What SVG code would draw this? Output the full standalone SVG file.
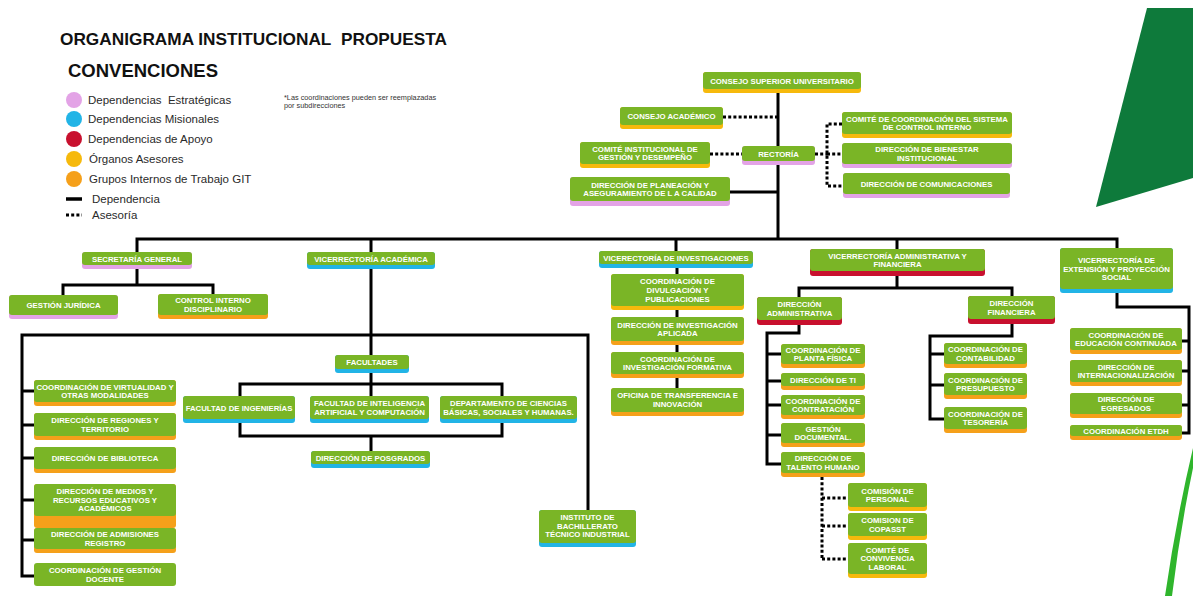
<svg xmlns="http://www.w3.org/2000/svg" width="1193" height="596" viewBox="0 0 1193 596">
<style>
.bg{fill:#ffffff}
.box{fill:#7ab526}
.y{fill:#f6b90c}.p{fill:#e3a3e6}.b{fill:#22b4e6}.r{fill:#c8102e}.o{fill:#f5a01a}
.t{font-family:"Liberation Sans",Arial,sans-serif;font-weight:bold;font-size:7.8px;fill:#ffffff;text-anchor:middle}
.ln{fill:none;stroke:#000;stroke-width:3;stroke-linejoin:miter}
.dt{fill:none;stroke:#000;stroke-width:3;stroke-dasharray:3 2.2}
.lg{font-family:"Liberation Sans",Arial,sans-serif;font-size:11.5px;fill:#2a2a2a}
.hd{font-family:"Liberation Sans",Arial,sans-serif;font-weight:bold;fill:#111}
</style>
<rect class="bg" x="0" y="0" width="1193" height="596"/>
<polygon points="1147,8 1193,8 1193,178 1096,207" fill="#0e7a3b"/>
<path d="M1193,448 L1193,468 Q1180,530 1172,596 L1165,596 Q1176,520 1193,448 Z" fill="#2fb52c"/>

<g id="legend">
<text class="hd" x="60" y="45" font-size="16.5" textLength="387" lengthAdjust="spacingAndGlyphs">ORGANIGRAMA INSTITUCIONAL&#160; PROPUESTA</text>
<text class="hd" x="68" y="77" font-size="17.5" textLength="150" lengthAdjust="spacingAndGlyphs">CONVENCIONES</text>
<circle cx="74" cy="100" r="8" class="p"/><text class="lg" x="88" y="104">Dependencias&#160; Estratégicas</text>
<circle cx="74" cy="119" r="8" class="b"/><text class="lg" x="88" y="123">Dependencias Misionales</text>
<circle cx="74" cy="139" r="8" class="r"/><text class="lg" x="88" y="143">Dependencias de Apoyo</text>
<circle cx="74" cy="159" r="8" class="y"/><text class="lg" x="89" y="163">Órganos Asesores</text>
<circle cx="74" cy="179" r="8" class="o"/><text class="lg" x="89" y="183">Grupos Internos de Trabajo GIT</text>
<line x1="66" y1="199" x2="82" y2="199" stroke="#000" stroke-width="3.5"/><text class="lg" x="92" y="203">Dependencia</text>
<line x1="66" y1="215" x2="82" y2="215" stroke="#000" stroke-width="3" stroke-dasharray="3 2.2"/><text class="lg" x="92" y="219">Asesoría</text>
<text x="284" y="100" font-family="Liberation Sans, Arial, sans-serif" font-size="7.3" fill="#333">*Las coordinaciones pueden ser reemplazadas</text>
<text x="284" y="108" font-family="Liberation Sans, Arial, sans-serif" font-size="7.3" fill="#333">por subdirecciones</text>
</g>

<g id="connectors">
<path class="ln" d="M778,92 V239 M730,192 H778 M137,252 V239 H1117 V248 M371,239 V252 M676,239 V251 M897,239 V249"/>
<path class="ln" d="M137,269 V285 M63,295 V285 H213 V294"/>
<path class="ln" d="M371,269 V355 M34,576 H22 V335 H588 V510 M22,391 H34 M22,425 H34 M22,458 H34 M22,500 H34 M22,540 H34"/>
<path class="ln" d="M371,373 V396 M240,396 V384 H502 V396 M240,423 V436 H502 V423 M371,436 V451"/>
<path class="ln" d="M677,267 V388"/>
<path class="ln" d="M897,276 V288 M799,297 V288 H1012 V296"/>
<path class="ln" d="M799,325 V333 H767 V464 H781 M767,354 H781 M767,381 H781 M767,405 H781 M767,435 H781"/>
<path class="ln" d="M1012,324 V336 H930 V419 H944 M930,354 H944 M930,385 H944"/>
<path class="ln" d="M1117,293 V307 H1189 V433 H1182 M1182,341 H1189 M1182,371 H1189 M1182,405 H1189"/>
<path class="dt" d="M723,117 H778 M710,154 H742 M815,154 H827 M842,124 H827 V186 H843 M827,154 H842"/>
<path class="dt" d="M822,477 V559 M822,498 H848 M822,526 H848 M822,559 H848"/>
</g>

<g id="n-csu"><rect class="y" x="703" y="72" width="158" height="21" rx="3"/><rect class="box" x="703" y="72" width="158" height="17" rx="3"/><text class="t" x="782" y="83.5">CONSEJO SUPERIOR UNIVERSITARIO</text></g>
<g id="n-cacad"><rect class="y" x="620" y="107" width="103" height="22" rx="3"/><rect class="box" x="620" y="107" width="103" height="18" rx="3"/><text class="t" x="671.5" y="119">CONSEJO ACADÉMICO</text></g>
<g id="n-cigd"><rect class="y" x="580" y="142" width="130" height="26" rx="3"/><rect class="box" x="580" y="142" width="130" height="22" rx="3"/><text class="t" x="645" y="151.5">COMITÉ INSTITUCIONAL DE<tspan x="645" dy="8.5">GESTIÓN Y DESEMPEÑO</tspan></text></g>
<g id="n-rectoria"><rect class="p" x="742" y="146" width="73" height="19" rx="3"/><rect class="box" x="742" y="146" width="73" height="15" rx="3"/><text class="t" x="778.5" y="156.5">RECTORÍA</text></g>
<g id="n-planeacion"><rect class="p" x="570" y="177" width="160" height="29" rx="3"/><rect class="box" x="570" y="177" width="160" height="24" rx="3"/><text class="t" x="650" y="187.5">DIRECCIÓN DE PLANEACIÓN Y<tspan x="650" dy="8.5">ASEGURAMIENTO DE L A CALIDAD</tspan></text></g>
<g id="n-comitecci"><rect class="y" x="842" y="112" width="170" height="26" rx="3"/><rect class="box" x="842" y="112" width="170" height="22" rx="3"/><text class="t" x="927" y="121.5">COMITÉ DE COORDINACIÓN DEL SISTEMA<tspan x="927" dy="8.5">DE CONTROL INTERNO</tspan></text></g>
<g id="n-bienestar"><rect class="p" x="842" y="143" width="170" height="25" rx="3"/><rect class="box" x="842" y="143" width="170" height="21" rx="3"/><text class="t" x="927" y="152">DIRECCIÓN DE BIENESTAR<tspan x="927" dy="8.5">INSTITUCIONAL</tspan></text></g>
<g id="n-comunicaciones"><rect class="p" x="843" y="173" width="167" height="25" rx="3"/><rect class="box" x="843" y="173" width="167" height="21" rx="3"/><text class="t" x="926.5" y="186.5">DIRECCIÓN DE COMUNICACIONES</text></g>

<g id="n-secgen"><rect class="p" x="82" y="252" width="110" height="17" rx="3"/><rect class="box" x="82" y="252" width="110" height="13" rx="3"/><text class="t" x="137" y="261.5">SECRETARÍA GENERAL</text></g>
<g id="n-gj"><rect class="p" x="9" y="295" width="109" height="24" rx="3"/><rect class="box" x="9" y="295" width="109" height="20" rx="3"/><text class="t" x="63.5" y="308">GESTIÓN JURÍDICA</text></g>
<g id="n-cid"><rect class="o" x="158" y="294" width="110" height="25" rx="3"/><rect class="box" x="158" y="294" width="110" height="21" rx="3"/><text class="t" x="213" y="303">CONTROL INTERNO<tspan x="213" dy="8.5">DISCIPLINARIO</tspan></text></g>

<g id="n-vacad"><rect class="b" x="307" y="252" width="128" height="17" rx="3"/><rect class="box" x="307" y="252" width="128" height="13" rx="3"/><text class="t" x="371" y="261.5">VICERRECTORÍA ACADÉMICA</text></g>
<g id="n-facultades"><rect class="b" x="335" y="355" width="74" height="18" rx="3"/><rect class="box" x="335" y="355" width="74" height="14" rx="3"/><text class="t" x="372" y="365">FACULTADES</text></g>
<g id="n-facing"><rect class="b" x="183" y="396" width="112" height="27" rx="3"/><rect class="box" x="183" y="396" width="112" height="23" rx="3"/><text class="t" x="239" y="410.5">FACULTAD DE INGENIERÍAS</text></g>
<g id="n-facia"><rect class="b" x="310" y="396" width="119" height="27" rx="3"/><rect class="box" x="310" y="396" width="119" height="23" rx="3"/><text class="t" x="369.5" y="406">FACULTAD DE INTELIGENCIA<tspan x="369.5" dy="8.5">ARTIFICIAL Y COMPUTACIÓN</tspan></text></g>
<g id="n-depto"><rect class="b" x="440" y="396" width="137" height="27" rx="3"/><rect class="box" x="440" y="396" width="137" height="23" rx="3"/><text class="t" x="508.5" y="406">DEPARTAMENTO DE CIENCIAS<tspan x="508.5" dy="8.5">BÁSICAS, SOCIALES Y HUMANAS.</tspan></text></g>
<g id="n-posgrados"><rect class="b" x="311" y="451" width="119" height="17" rx="3"/><rect class="box" x="311" y="451" width="119" height="13" rx="3"/><text class="t" x="370.5" y="460.5">DIRECCIÓN DE POSGRADOS</text></g>
<g id="n-virtualidad"><rect class="o" x="34" y="380" width="142" height="26" rx="3"/><rect class="box" x="34" y="380" width="142" height="22" rx="3"/><text class="t" x="105" y="389.5">COORDINACIÓN DE VIRTUALIDAD Y<tspan x="105" dy="8.5">OTRAS MODALIDADES</tspan></text></g>
<g id="n-regiones"><rect class="o" x="34" y="413" width="142" height="27" rx="3"/><rect class="box" x="34" y="413" width="142" height="23" rx="3"/><text class="t" x="105" y="423">DIRECCIÓN DE REGIONES Y<tspan x="105" dy="8.5">TERRITORIO</tspan></text></g>
<g id="n-biblioteca"><rect class="o" x="34" y="447" width="142" height="26" rx="3"/><rect class="box" x="34" y="447" width="142" height="22" rx="3"/><text class="t" x="105" y="461">DIRECCIÓN DE BIBLIOTECA</text></g>
<g id="n-medios"><rect class="o" x="34" y="484" width="142" height="44" rx="3"/><rect class="box" x="34" y="484" width="142" height="32" rx="3"/><text class="t" x="105" y="494">DIRECCIÓN DE MEDIOS Y<tspan x="105" dy="8.5">RECURSOS EDUCATIVOS Y</tspan><tspan x="105" dy="8.5">ACADÉMICOS</tspan></text></g>
<g id="n-admisiones"><rect class="o" x="34" y="528" width="142" height="25" rx="3"/><rect class="box" x="34" y="528" width="142" height="21" rx="3"/><text class="t" x="105" y="537">DIRECCIÓN DE ADMISIONES<tspan x="105" dy="8.5">REGISTRO</tspan></text></g>
<g id="n-gdocente"><rect class="box" x="34" y="563" width="142" height="23" rx="3"/><text class="t" x="105" y="573">COORDINACIÓN DE GESTIÓN<tspan x="105" dy="8.5">DOCENTE</tspan></text></g>
<g id="n-instituto"><rect class="b" x="539" y="510" width="97" height="37" rx="3"/><rect class="box" x="539" y="510" width="97" height="33" rx="3"/><text class="t" x="587.5" y="520">INSTITUTO DE<tspan x="587.5" dy="8.7">BACHILLERATO</tspan><tspan x="587.5" dy="8.7">TÉCNICO INDUSTRIAL</tspan></text></g>

<g id="n-vinv"><rect class="b" x="599" y="251" width="154" height="17" rx="3"/><rect class="box" x="599" y="251" width="154" height="13" rx="3"/><text class="t" x="676" y="260.5">VICERECTORÍA DE INVESTIGACIONES</text></g>
<g id="n-divulgacion"><rect class="y" x="611" y="274" width="133" height="36" rx="3"/><rect class="box" x="611" y="274" width="133" height="32" rx="3"/><text class="t" x="677.5" y="283.5">COORDINACIÓN DE<tspan x="677.5" dy="9">DIVULGACIÓN Y</tspan><tspan x="677.5" dy="9">PUBLICACIONES</tspan></text></g>
<g id="n-aplicada"><rect class="o" x="611" y="317" width="133" height="28" rx="3"/><rect class="box" x="611" y="317" width="133" height="24" rx="3"/><text class="t" x="677.5" y="327.5">DIRECCIÓN DE INVESTIGACIÓN<tspan x="677.5" dy="8.5">APLICADA</tspan></text></g>
<g id="n-formativa"><rect class="o" x="611" y="352" width="133" height="26" rx="3"/><rect class="box" x="611" y="352" width="133" height="22" rx="3"/><text class="t" x="677.5" y="361.5">COORDINACIÓN DE<tspan x="677.5" dy="8.5">INVESTIGACIÓN FORMATIVA</tspan></text></g>
<g id="n-oficina"><rect class="o" x="611" y="388" width="133" height="28" rx="3"/><rect class="box" x="611" y="388" width="133" height="24" rx="3"/><text class="t" x="677.5" y="398">OFICINA DE TRANSFERENCIA E<tspan x="677.5" dy="8.5">INNOVACIÓN</tspan></text></g>

<g id="n-vadm"><rect class="r" x="810" y="249" width="175" height="27" rx="3"/><rect class="box" x="810" y="249" width="175" height="22" rx="3"/><text class="t" x="897.5" y="258.5">VICERRECTORÍA ADMINISTRATIVA Y<tspan x="897.5" dy="8.5">FINANCIERA</tspan></text></g>
<g id="n-diradm"><rect class="r" x="757" y="297" width="85" height="28" rx="3"/><rect class="box" x="757" y="297" width="85" height="23" rx="3"/><text class="t" x="799.5" y="307">DIRECCIÓN<tspan x="799.5" dy="8.5">ADMINISTRATIVA</tspan></text></g>
<g id="n-dirfin"><rect class="r" x="968" y="296" width="87" height="28" rx="3"/><rect class="box" x="968" y="296" width="87" height="23" rx="3"/><text class="t" x="1011.5" y="306">DIRECCIÓN<tspan x="1011.5" dy="8.5">FINANCIERA</tspan></text></g>
<g id="n-planta"><rect class="o" x="781" y="344" width="84" height="24" rx="3"/><rect class="box" x="781" y="344" width="84" height="20" rx="3"/><text class="t" x="823" y="352.5">COORDINACIÓN DE<tspan x="823" dy="8.5">PLANTA FÍSICA</tspan></text></g>
<g id="n-ti"><rect class="o" x="781" y="373" width="84" height="17" rx="3"/><rect class="box" x="781" y="373" width="84" height="13" rx="3"/><text class="t" x="823" y="382.5">DIRECCIÓN DE TI</text></g>
<g id="n-contratacion"><rect class="o" x="781" y="395" width="84" height="24" rx="3"/><rect class="box" x="781" y="395" width="84" height="20" rx="3"/><text class="t" x="823" y="403.5">COORDINACIÓN DE<tspan x="823" dy="8.5">CONTRATACIÓN</tspan></text></g>
<g id="n-gdoc"><rect class="o" x="781" y="423" width="84" height="24" rx="3"/><rect class="box" x="781" y="423" width="84" height="20" rx="3"/><text class="t" x="823" y="431.5">GESTIÓN<tspan x="823" dy="8.5">DOCUMENTAL.</tspan></text></g>
<g id="n-talento"><rect class="o" x="781" y="452" width="84" height="25" rx="3"/><rect class="box" x="781" y="452" width="84" height="21" rx="3"/><text class="t" x="823" y="461">DIRECCIÓN DE<tspan x="823" dy="8.5">TALENTO HUMANO</tspan></text></g>
<g id="n-personal"><rect class="y" x="848" y="483" width="79" height="28" rx="3"/><rect class="box" x="848" y="483" width="79" height="24" rx="3"/><text class="t" x="887.5" y="493.5">COMISIÓN DE<tspan x="887.5" dy="8.5">PERSONAL</tspan></text></g>
<g id="n-copasst"><rect class="y" x="848" y="513" width="79" height="27" rx="3"/><rect class="box" x="848" y="513" width="79" height="23" rx="3"/><text class="t" x="887.5" y="523">COMISION DE<tspan x="887.5" dy="8.5">COPASST</tspan></text></g>
<g id="n-convivencia"><rect class="y" x="848" y="543" width="79" height="35" rx="3"/><rect class="box" x="848" y="543" width="79" height="31" rx="3"/><text class="t" x="887.5" y="552.5">COMITÉ DE<tspan x="887.5" dy="8.7">CONVIVENCIA</tspan><tspan x="887.5" dy="8.7">LABORAL</tspan></text></g>
<g id="n-contabilidad"><rect class="o" x="944" y="343" width="83" height="25" rx="3"/><rect class="box" x="944" y="343" width="83" height="21" rx="3"/><text class="t" x="985.5" y="352">COORDINACIÓN DE<tspan x="985.5" dy="8.5">CONTABILIDAD</tspan></text></g>
<g id="n-presupuesto"><rect class="o" x="944" y="373" width="83" height="26" rx="3"/><rect class="box" x="944" y="373" width="83" height="22" rx="3"/><text class="t" x="985.5" y="382.5">COORDINACIÓN DE<tspan x="985.5" dy="8.5">PRESUPUESTO</tspan></text></g>
<g id="n-tesoreria"><rect class="o" x="944" y="407" width="83" height="26" rx="3"/><rect class="box" x="944" y="407" width="83" height="22" rx="3"/><text class="t" x="985.5" y="416.5">COORDINACIÓN DE<tspan x="985.5" dy="8.5">TESORERÍA</tspan></text></g>

<g id="n-vext"><rect class="b" x="1060" y="248" width="113" height="45" rx="3"/><rect class="box" x="1060" y="248" width="113" height="41" rx="3"/><text class="t" x="1116.5" y="263">VICERRECTORÍA DE<tspan x="1116.5" dy="8.7">EXTENSIÓN Y PROYECCIÓN</tspan><tspan x="1116.5" dy="8.7">SOCIAL</tspan></text></g>
<g id="n-educont"><rect class="o" x="1070" y="328" width="112" height="26" rx="3"/><rect class="box" x="1070" y="328" width="112" height="22" rx="3"/><text class="t" x="1126" y="337.5">COORDINACIÓN DE<tspan x="1126" dy="8.5">EDUCACIÓN CONTINUADA</tspan></text></g>
<g id="n-internac"><rect class="o" x="1070" y="360" width="112" height="26" rx="3"/><rect class="box" x="1070" y="360" width="112" height="22" rx="3"/><text class="t" x="1126" y="369.5">DIRECCIÓN DE<tspan x="1126" dy="8.5">INTERNACIONALIZACIÓN</tspan></text></g>
<g id="n-egresados"><rect class="o" x="1070" y="393" width="112" height="25" rx="3"/><rect class="box" x="1070" y="393" width="112" height="21" rx="3"/><text class="t" x="1126" y="402">DIRECCIÓN DE<tspan x="1126" dy="8.5">EGRESADOS</tspan></text></g>
<g id="n-etdh"><rect class="o" x="1070" y="425" width="112" height="15" rx="3"/><rect class="box" x="1070" y="425" width="112" height="11" rx="3"/><text class="t" x="1126" y="433.5">COORDINACIÓN ETDH</text></g>
</svg>
